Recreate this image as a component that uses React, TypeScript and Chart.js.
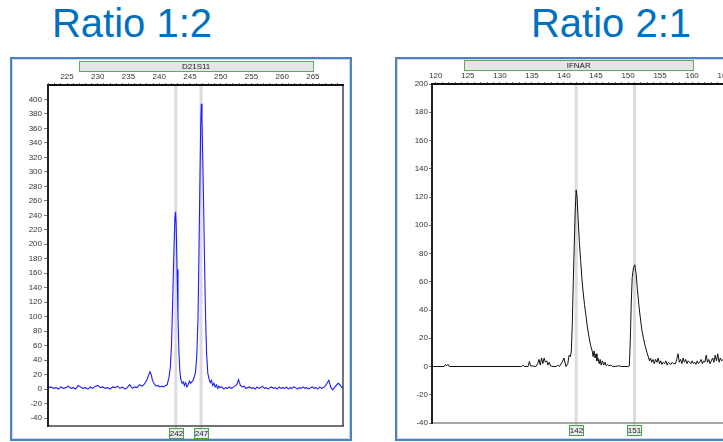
import React, { useEffect, useRef } from 'react';
import { Chart, registerables } from 'chart.js';

Chart.register(...registerables);

const FONT = '"Liberation Sans", Arial, Helvetica, sans-serif';

// ---------- Left panel (Ratio 1:2) ----------
const leftTitle = 'Ratio 1:2';
const leftMarker = 'D21S11';
const leftMarkerRange = [227, 265];
const leftBinPos = [242.7, 246.8];
const leftBinLabels = ['242', '247'];
const leftXLabels = [225, 230, 235, 240, 245, 250, 255, 260, 265];
const leftYTicks = [-40, -20, 0, 20, 40, 60, 80, 100, 120, 140, 160, 180, 200, 220, 240, 260, 280, 300, 320, 340, 360, 380, 400];

const blueX = [
  222.0, 222.4, 222.8, 223.2, 223.6, 224.0, 224.4, 224.8, 225.2, 225.6, 226.0, 226.4, 226.8, 227.2, 227.6, 228.0,
  228.4, 228.8, 229.2, 229.6, 230.0, 230.4, 230.8, 231.2, 231.6, 232.0, 232.4, 232.8, 233.2, 233.6, 234.0, 234.4,
  234.8, 235.2, 235.6, 236.0, 236.4, 236.8, 237.2, 237.6, 238.0, 238.3, 238.5, 238.7, 238.9, 239.2, 239.5, 239.8,
  240.1, 240.4, 240.7, 241.0, 241.3,
  241.6, 241.8, 242.0, 242.2, 242.4, 242.55, 242.65, 242.75, 242.9, 243.05, 243.2, 243.35, 243.5, 243.7,
  243.9, 244.1, 244.3, 244.5, 244.7, 244.9, 245.1, 245.3, 245.5, 245.7, 245.9,
  246.1, 246.3, 246.45, 246.6, 246.75, 246.85, 246.95, 247.1, 247.25, 247.4, 247.55, 247.7, 247.9, 248.1,
  248.3, 248.5, 248.7, 248.9, 249.1, 249.3, 249.5, 249.7, 249.9, 250.2, 250.5, 250.8, 251.1, 251.4, 251.7, 252.0,
  252.3, 252.6, 252.9, 253.2, 253.5, 253.8, 254.1, 254.4, 254.7, 255.0, 255.3, 255.6, 255.9, 256.2, 256.5, 256.8,
  257.1, 257.4, 257.7, 258.0, 258.3, 258.6, 258.9, 259.2, 259.5, 259.8, 260.1, 260.4, 260.7, 261.0, 261.3, 261.6,
  261.9, 262.2, 262.5, 262.8, 263.1, 263.4, 263.7, 264.0, 264.3, 264.6, 264.9, 265.2, 265.5, 265.8, 266.1, 266.4,
  266.7, 267.0, 267.3, 267.6, 267.9, 268.2, 268.5, 268.8, 269.1, 269.4, 269.7, 270.0,
];
const blueY = [
  2, 3, 1, 2, 0, 3, 1, 2, 4, 1, 2, 0, 5, 3, 1, 2,
  0, 3, 1, 4, 5, 2, 3, 1, 2, 0, 3, 2, 4, 1, 3, 0,
  2, 6, 1, 3, 2, 6, 4, 7, 13, 20, 24, 20, 12, 7, 4, 5,
  3, 4, 3, 5, 6,
  17, 30, 62, 125, 195, 236, 245, 228, 165, 100, 52, 25, 14, 8,
  10, 5, 9, 3, 6, 11, 8, 10, 12, 17, 23,
  45, 95, 180, 275, 365, 394, 375, 310, 240, 160, 95, 50, 22, 14,
  9, 12, 5, 8, 3, 6, 1, 4, 2, 3, 0, 2, 1, 3, 1, 2,
  4, 6, 13, 5, 3, 4, 1, 2, 3, 1, 2, 0, 3, 1, 2, 4,
  1, 2, 0, 2, 3, 1, 2, 0, 3, 1, 2, 1, 3, 0, 2, 1,
  3, 2, 0, 2, 1, 3, 1, 2, 0, 2, 3, 1, 2, 0, 3, 1,
  2, 4, 8, 12, 3, -1, 2, 5, 8, 6, 2, 3,
];

// ---------- Right panel (Ratio 2:1) ----------
const rightTitle = 'Ratio 2:1';
const rightMarker = 'IFNAR';
const rightMarkerRange = [124.4, 160.2];
const rightBinPos = [141.9, 151.0];
const rightBinLabels = ['142', '151'];
const rightXLabels = [120, 125, 130, 135, 140, 145, 150, 155, 160, 165];
const rightYTicks = [-40, -20, 0, 20, 40, 60, 80, 100, 120, 140, 160, 180, 200];

const blackX = [
  119.4, 121.3, 121.5, 121.7, 121.9, 122.1, 133.4, 133.6, 133.8, 134.4, 134.6, 134.8, 135.6, 135.9, 136.1, 136.3,
  136.5, 136.7, 136.9, 137.1, 137.3, 137.5, 137.7, 137.9, 138.3, 138.8, 139.0, 139.3, 139.7, 140.0, 140.3, 140.6,
  140.8, 141.0, 141.15, 141.3, 141.45, 141.6, 141.75, 141.9, 142.05, 142.2, 142.4, 142.6, 142.8, 143.0, 143.2, 143.4,
  143.65, 143.9, 144.15, 144.4, 144.55, 144.7, 144.85, 145.0, 145.15, 145.3, 145.5, 145.65, 145.8, 146.0, 146.2, 146.4,
  146.6, 146.8, 147.0, 147.3, 147.6, 148.0, 148.5, 149.0, 150.0, 150.2, 150.35, 150.5, 150.65, 150.85, 151.05, 151.25,
  151.45, 151.7, 151.9, 152.15, 152.4, 152.7, 152.95, 153.15, 153.35, 153.5, 153.7, 153.9, 154.1, 154.3, 154.5, 154.7,
  154.9, 155.1, 155.3, 155.5, 155.7, 155.9, 156.1, 156.3, 156.5, 156.7, 156.9, 157.1, 157.4, 157.6, 157.8, 158.0,
  158.2, 158.4, 158.6, 158.8, 159.0, 159.2, 159.4, 159.6, 159.8, 160.0, 160.2, 160.4, 160.6, 160.8, 161.0, 161.2,
  161.4, 161.6, 161.8, 162.0, 162.2, 162.4, 162.6, 162.8, 163.0, 163.2, 163.4, 163.6, 163.8, 164.0, 164.2, 164.4,
  164.6, 164.8, 165.0, 165.3, 165.6,
];
const blackY = [
  0, 0, 1.5, 0.5, 1.5, 0, 0, 1, 0, 0, 3.5, 0.5, 0, 2, 5, 1,
  6, 2, 6, 3, 4, 1, 3, 0.5, 0, 0, 1, 0, 3, 6, 0, 2,
  8, 7, 11, 30, 60, 85, 110, 125, 120, 105, 88, 75, 62, 52, 44, 37,
  28, 21, 15, 11, 7, 11, 6, 9, 4, 6, 2, 5, 1, 4, 1, 3,
  0.5, 1.5, 0.5, 1, 0, 0, 0.5, 0, 0, 0.5, 18, 45, 63, 70, 72, 66,
  55, 43, 35, 26, 20, 14, 10, 7, 4, 6, 3, 5, 2, 5, 3, 6,
  2, 4, 1.5, 3, 2, 4, 1, 3, 2, 1.5, 3, 2, 2, 5, 9, 3,
  5, 2, 6, 3, 5, 2, 4, 3, 2, 4, 2, 3, 1.5, 4, 2, 3,
  5, 2, 4, 3, 8, 3, 5, 2, 4, 6, 3, 8, 4, 9, 3, 6,
  4, 5, 3, 5, 3,
];

type PanelSpec = {
  xs: number[]; ys: number[]; color: string; lineWidth: number;
  xMin: number; xMax: number; yMin: number; yMax: number;
  xLabels: number[]; yTicks: number[];
  band: number[]; bandLabel: string; bins: number[]; binLabels: string[];
  width: number; height: number;
  yAxisWidth: number; yTickLen: number; yPad: number;
  padTop: number; padRight: number; padBottom: number; xAxisHeight: number;
  sideColor: string; bottomColor: string;
};

function ChartPanel({ p, left, top }: { p: PanelSpec; left: number; top: number }) {
  const ref = useRef<HTMLCanvasElement>(null);
  useEffect(() => {
    const minor: number[] = [];
    for (let v = Math.ceil(p.xMin); v <= Math.floor(p.xMax); v++) minor.push(v);
    const decor = {
      id: 'decor',
      beforeDatasetsDraw(chart: any) {
        const { ctx, chartArea: a } = chart;
        const x = chart.scales.x;
        ctx.save();
        const bx0 = x.getPixelForValue(p.band[0]);
        const bx1 = x.getPixelForValue(p.band[1]);
        const by = a.top - 24;
        ctx.fillStyle = '#e7e4e7';
        ctx.fillRect(bx0, by, bx1 - bx0, 11);
        ctx.strokeStyle = '#5aae5a';
        ctx.lineWidth = 1;
        ctx.strokeRect(Math.round(bx0) + 0.5, by + 0.5, Math.round(bx1 - bx0), 10);
        ctx.fillStyle = '#222';
        ctx.font = '8px ' + FONT;
        ctx.textAlign = 'center';
        ctx.textBaseline = 'middle';
        ctx.fillText(p.bandLabel, (bx0 + bx1) / 2, by + 6);
        ctx.strokeStyle = '#dedade';
        ctx.lineWidth = 3;
        for (const v of p.bins) {
          const px = x.getPixelForValue(v);
          ctx.beginPath();
          ctx.moveTo(px, a.top);
          ctx.lineTo(px, a.bottom + 2);
          ctx.stroke();
        }
        ctx.restore();
      },
      afterDatasetsDraw(chart: any) {
        const { ctx, chartArea: a } = chart;
        ctx.save();
        const line = (x0: number, y0: number, x1: number, y1: number) => {
          ctx.beginPath(); ctx.moveTo(x0, y0); ctx.lineTo(x1, y1); ctx.stroke();
        };
        ctx.lineWidth = 1.5;
        ctx.strokeStyle = p.sideColor;
        line(a.right, a.top, a.right, a.bottom);
        ctx.strokeStyle = p.bottomColor;
        line(a.left, a.bottom, a.right + 1, a.bottom);
        ctx.lineWidth = 2;
        ctx.strokeStyle = '#111';
        line(a.left - 1, a.top, a.right + 1, a.top);
        ctx.strokeStyle = '#222';
        line(a.left, a.top, a.left, a.bottom + 1);
        const x = chart.scales.x;
        ctx.font = '8px ' + FONT;
        ctx.textAlign = 'center';
        ctx.textBaseline = 'middle';
        p.bins.forEach((v, i) => {
          const px = Math.round(x.getPixelForValue(v));
          const bw = 15, bh = 11;
          const bx = px - 7, by = Math.round(a.bottom) + 2;
          ctx.fillStyle = '#ebe9eb';
          ctx.fillRect(bx, by, bw, bh);
          ctx.strokeStyle = '#3fa845';
          ctx.lineWidth = 1;
          ctx.strokeRect(bx + 0.5, by + 0.5, bw - 1, bh - 1);
          ctx.fillStyle = '#222';
          ctx.fillText(p.binLabels[i], px + 0.5, by + bh / 2 + 0.5);
        });
        ctx.restore();
      },
    };
    const chart = new Chart(ref.current as HTMLCanvasElement, {
      type: 'line',
      data: {
        datasets: [{
          data: p.xs.map((x, i) => ({ x, y: p.ys[i] })),
          borderColor: p.color,
          borderWidth: p.lineWidth,
          pointRadius: 0,
          tension: 0,
          fill: false,
        }],
      },
      options: {
        responsive: false,
        animation: false,
        events: [],
        layout: { padding: { top: p.padTop, left: 0, right: p.padRight, bottom: p.padBottom } },
        plugins: { legend: { display: false }, tooltip: { enabled: false }, title: { display: false } },
        scales: {
          x: {
            type: 'linear',
            position: 'top',
            min: p.xMin,
            max: p.xMax,
            afterBuildTicks: (s: any) => { s.ticks = minor.map((v) => ({ value: v })); },
            afterFit: (s: any) => { s.height = p.xAxisHeight; },
            ticks: {
              autoSkip: false, maxRotation: 0, minRotation: 0, padding: 1,
              font: { size: 8, family: FONT }, color: '#333',
              callback: (v: any) => (p.xLabels.includes(Number(v)) ? String(v) : ''),
            },
            grid: { drawOnChartArea: false, drawTicks: true, tickLength: 2, color: '#777', lineWidth: 1 },
            border: { display: false },
          },
          y: {
            type: 'linear',
            min: p.yMin,
            max: p.yMax,
            afterBuildTicks: (s: any) => { s.ticks = p.yTicks.map((v) => ({ value: v })); },
            afterFit: (s: any) => { s.width = p.yAxisWidth; },
            ticks: {
              autoSkip: false, padding: p.yPad,
              font: { size: 8, family: FONT }, color: '#333',
              callback: (v: any) => String(v),
            },
            grid: { drawOnChartArea: false, drawTicks: true, tickLength: p.yTickLen, color: '#777', lineWidth: 1 },
            border: { display: false },
          },
        },
      } as any,
      plugins: [decor as any],
    });
    return () => chart.destroy();
  }, []);
  return (
    <canvas
      ref={ref}
      width={p.width}
      height={p.height}
      style={{ position: 'absolute', left, top, width: p.width, height: p.height, display: 'block' }}
    />
  );
}

const leftSpec: PanelSpec = {
  xs: blueX, ys: blueY, color: '#1c1cff', lineWidth: 1.1,
  xMin: 221.9, xMax: 269.9, yMin: -51, yMax: 420,
  xLabels: leftXLabels, yTicks: leftYTicks,
  band: leftMarkerRange, bandLabel: leftMarker, bins: leftBinPos, binLabels: leftBinLabels,
  width: 338, height: 380,
  yAxisWidth: 36, yTickLen: 4, yPad: 2,
  padTop: 13, padRight: 7, padBottom: 13, xAxisHeight: 13,
  sideColor: '#444', bottomColor: '#444',
};

const rightSpec: PanelSpec = {
  xs: blackX, ys: blackY, color: '#111', lineWidth: 1,
  xMin: 119.4, xMax: 165.6, yMin: -40, yMax: 200,
  xLabels: rightXLabels, yTicks: rightYTicks,
  band: rightMarkerRange, bandLabel: rightMarker, bins: rightBinPos, binLabels: rightBinLabels,
  width: 338, height: 380,
  yAxisWidth: 35, yTickLen: 3, yPad: 1,
  padTop: 12, padRight: 7, padBottom: 16, xAxisHeight: 13,
  sideColor: '#444', bottomColor: '#8a8a8a',
};

const titleStyle: React.CSSProperties = {
  position: 'absolute',
  top: 3,
  width: 300,
  height: 40,
  lineHeight: '40px',
  fontSize: 40,
  fontFamily: FONT,
  color: '#0070c0',
  textAlign: 'center',
  whiteSpace: 'nowrap',
};

const frameStyle: React.CSSProperties = {
  position: 'absolute',
  top: 57,
  width: 342,
  height: 384,
  boxSizing: 'border-box',
  border: '2px solid #4f81bd',
  boxShadow: 'inset 0 0 0 1px #c9d8ee',
  background: '#fff',
};

export default function App() {
  return (
    <div style={{ position: 'fixed', left: 0, top: 0, width: 723, height: 442, overflow: 'hidden', background: '#fff' }}>
      <div style={{ ...titleStyle, left: 132 - 150 }}>{leftTitle}</div>
      <div style={{ ...titleStyle, left: 611 - 150 }}>{rightTitle}</div>
      <div style={{ ...frameStyle, left: 10 }} />
      <div style={{ ...frameStyle, left: 395 }} />
      <ChartPanel p={leftSpec} left={12} top={59} />
      <ChartPanel p={rightSpec} left={397} top={59} />
    </div>
  );
}
